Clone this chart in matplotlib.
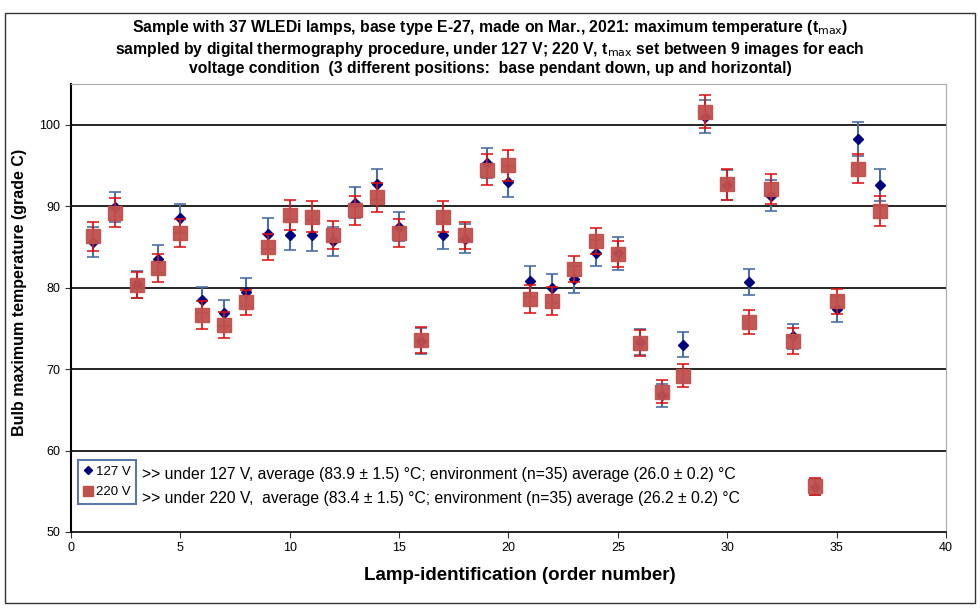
import matplotlib.pyplot as plt
from matplotlib.lines import Line2D
from matplotlib.patches import Rectangle
import numpy as np

lamps = list(range(1, 38))

# maximum temperature under 127 V (grade C)
t127 = [85.6, 89.9, 80.4, 83.5, 88.5, 78.5, 76.9, 79.5, 86.6, 86.5,
        86.4, 85.7, 90.4, 92.7, 87.5, 73.4, 86.4, 86.0, 95.3, 93.0,
        80.8, 79.9, 81.0, 84.2, 84.2, 73.3, 66.8, 73.0, 101.0, 92.6,
        80.7, 91.3, 74.0, 55.5, 77.4, 98.2, 92.6]
e127 = [1.8, 1.8, 1.7, 1.7, 1.8, 1.6, 1.6, 1.7, 1.9, 1.9,
        1.9, 1.8, 1.9, 1.9, 1.8, 1.6, 1.7, 1.8, 1.9, 1.9,
        1.9, 1.8, 1.6, 1.6, 2.0, 1.6, 1.4, 1.5, 2.0, 1.8,
        1.6, 1.9, 1.5, 1.0, 1.6, 2.1, 2.0]

# maximum temperature under 220 V (grade C)
t220 = [86.3, 89.2, 80.3, 82.4, 86.7, 76.6, 75.4, 78.2, 85.0, 88.9,
        88.7, 86.5, 89.5, 91.1, 86.7, 73.6, 88.7, 86.4, 94.5, 95.0,
        78.6, 78.4, 82.3, 85.7, 84.1, 73.2, 67.2, 69.2, 101.6, 92.7,
        75.8, 92.1, 73.5, 55.6, 78.3, 94.6, 89.4]
e220 = [1.8, 1.8, 1.6, 1.7, 1.7, 1.7, 1.6, 1.5, 1.6, 1.8,
        1.9, 1.7, 1.8, 1.8, 1.7, 1.6, 1.9, 1.7, 1.9, 1.9,
        1.7, 1.7, 1.6, 1.6, 1.6, 1.6, 1.4, 1.4, 2.0, 1.9,
        1.5, 1.8, 1.6, 1.0, 1.5, 1.8, 1.8]

title = ("Sample with 37 WLEDi lamps, base type E-27, made on Mar., 2021: maximum temperature (t$_{\\rm max}$)\n"
         "sampled by digital thermography procedure, under 127 V; 220 V, t$_{\\rm max}$ set between 9 images for each\n"
         "voltage condition  (3 different positions:  base pendant down, up and horizontal)")
note127 = ">> under 127 V, average (83.9 \u00b1 1.5) \u00b0C; environment (n=35) average (26.0 \u00b1 0.2) \u00b0C"
note220 = ">> under 220 V,  average (83.4 \u00b1 1.5) \u00b0C; environment (n=35) average (26.2 \u00b1 0.2) \u00b0C"

plt.rcParams['font.family'] = ['Liberation Sans', 'DejaVu Sans']

fig = plt.figure(figsize=(9.8, 6.1), dpi=100)
ax = fig.add_axes([0.0724, 0.1279, 0.8929, 0.7344])

# outer chart border
fig.patches.append(Rectangle((0.005, 0.012), 0.99, 0.967, transform=fig.transFigure,
                             fill=False, edgecolor='#333333', linewidth=1.0))

ax.errorbar(lamps, t127, yerr=e127, fmt='D', color='#000080', markersize=5,
            ecolor='#4a6fa5', elinewidth=1.5, capsize=4, capthick=1.2, zorder=3)
ax.errorbar(lamps, t220, yerr=e220, fmt='s', color='#c0504d', markersize=10,
            ecolor='#e01010', elinewidth=1.3, capsize=4, capthick=1.2, zorder=4, alpha=0.95)

ax.set_xlim(0, 40)
ax.set_ylim(50, 105)
ax.set_xticks(np.arange(0, 41, 5))
ax.set_yticks(np.arange(50, 101, 10))
ax.tick_params(labelsize=9, length=4, color='#333333')
for y in range(60, 101, 10):
    ax.axhline(y, color='black', linewidth=1.2, zorder=1)

for s in ['top', 'right']:
    ax.spines[s].set_color('#aaaaaa')
ax.spines['left'].set_linewidth(1.5)
ax.spines['bottom'].set_linewidth(1.2)

ax.set_xlabel('Lamp-identification (order number)', fontsize=13.5, fontweight='bold')
ax.xaxis.set_label_coords(0.513, -0.078)
ax.set_ylabel('Bulb maximum temperature (grade C)', fontsize=11.5, fontweight='bold')
ax.yaxis.set_label_coords(-0.050, 0.535)

fig.text(0.5, 0.923, title, ha='center', va='center', fontsize=11.3, fontweight='bold',
         linespacing=1.16)

# legend box with the two notes
handles = [Line2D([], [], marker='D', color='#000080', linestyle='none', markersize=4),
           Line2D([], [], marker='s', color='#c0504d', linestyle='none', markersize=7)]
leg = ax.legend(handles, ['127 V', '220 V'], loc='upper left', bbox_to_anchor=(0.008, 0.161),
                fontsize=9.5, frameon=True, fancybox=False, handlelength=0.6, handletextpad=0.3,
                borderpad=0.45, labelspacing=0.6, borderaxespad=0)
leg.get_frame().set_edgecolor('#2f5597')
leg.get_frame().set_linewidth(1.5)
fig.text(0.145, 1 - 475 / 610, note127, fontsize=11.3, va='center')
fig.text(0.145, 1 - 499 / 610, note220, fontsize=11.3, va='center')

fig.savefig('out.png', dpi=100)
